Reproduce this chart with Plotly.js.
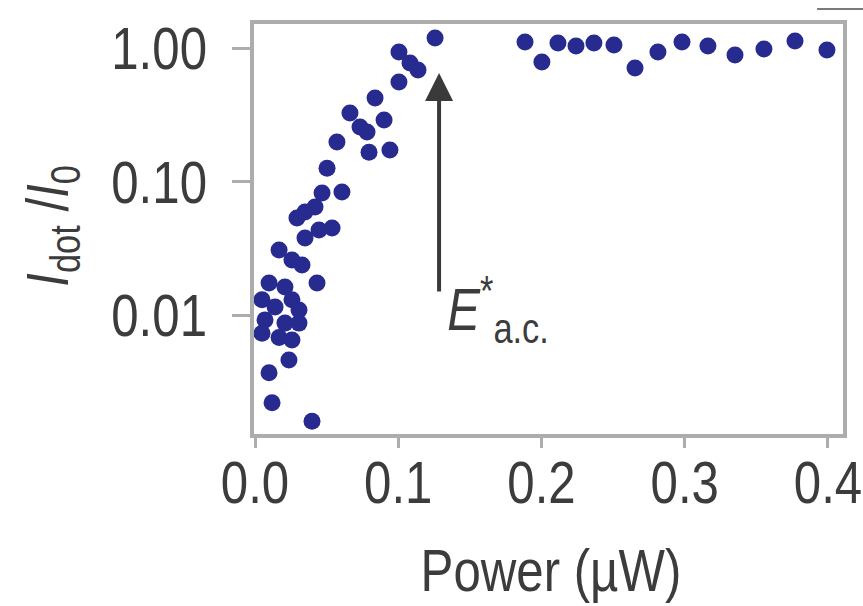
<!DOCTYPE html>
<html>
<head>
<meta charset="utf-8">
<script src="https://cdn.plot.ly/plotly-3.0.1.min.js"></script>
<style>
  html, body { margin: 0; padding: 0; background: #ffffff; }
  #chart { width: 863px; height: 606px; }
</style>
</head>
<body>
<div id="chart"></div>
<script>
// Quantum-dot emission vs. excitation power (µW), normalised to the saturated level I0
const power = [
  0.1257, 0.1005, 0.1082, 0.1138, 0.1005, 0.0838, 0.0663, 0.0733, 0.0782, 0.0901,
  0.0572, 0.0796, 0.0942, 0.0503, 0.0607, 0.0468, 0.0419, 0.0349, 0.0293, 0.0447,
  0.0538, 0.0349, 0.0168, 0.0258, 0.0328, 0.0433, 0.0098, 0.0209, 0.0049, 0.0258,
  0.0140, 0.0307, 0.0070, 0.0209, 0.0307, 0.0049, 0.0168, 0.0258, 0.0237, 0.0098,
  0.0119, 0.0398,
  0.1885, 0.2003, 0.2115, 0.2241, 0.2366, 0.2506, 0.2653, 0.2813, 0.2981, 0.3162,
  0.3351, 0.3553, 0.3770, 0.3993
];
const intensityRatio = [
  1.188, 0.933, 0.772, 0.684, 0.556, 0.422, 0.326, 0.256, 0.235, 0.289,
  0.198, 0.166, 0.172, 0.126, 0.0834, 0.082, 0.0644, 0.0591, 0.0533, 0.0433,
  0.0448, 0.0377, 0.0307, 0.0258, 0.0237, 0.0174, 0.0174, 0.0162, 0.0130, 0.0130,
  0.0115, 0.0109, 0.0092, 0.0087, 0.0087, 0.0073, 0.0068, 0.0065, 0.0046, 0.0037,
  0.0022, 0.0016,
  1.11, 0.785, 1.09, 1.035, 1.09, 1.053, 0.708, 0.933, 1.11, 1.035,
  0.886, 0.983, 1.128, 0.966
];

const xTickVals = [0, 0.1, 0.2, 0.3, 0.4];
const xTickText = ['0.0', '0.1', '0.2', '0.3', '0.4'];
const yTickVals = [0.01, 0.1, 1];
const yTickText = ['0.01', '0.10', '1.00'];

// Threshold field marker E*a.c.: arrow from tail up to tip
const arrowPower = 0.1285;
const arrowTip = 0.65;
const arrowTail = 0.0146;
const labelPower = 0.1249;
const labelTop = 0.0239;

const FONT = '"Liberation Sans", Arial, Helvetica, sans-serif';
const NARROW = 0.82;          // horizontal squeeze for a condensed Helvetica look
const TEXT_COLOR = '#3c3c3c';
const FRAME = '#adadad';

const trace = {
  type: 'scatter',
  mode: 'markers',
  x: power,
  y: intensityRatio,
  marker: { color: '#272a8e', size: 17, line: { width: 0 } },
  hoverinfo: 'x+y'
};

const layout = {
  width: 863,
  height: 606,
  margin: { l: 254, r: 20, t: 24, b: 172, pad: 0 },
  paper_bgcolor: '#ffffff',
  plot_bgcolor: '#ffffff',
  showlegend: false,
  font: { family: FONT, color: TEXT_COLOR },
  xaxis: {
    range: [-0.0007, 0.4105],
    tickvals: xTickVals,
    ticktext: xTickText,
    ticks: 'outside',
    ticklen: 10,
    tickwidth: 3,
    tickcolor: FRAME,
    ticklabelstandoff: -17,
    ticklabeloverflow: 'allow',
    tickfont: { family: FONT, size: 60, color: TEXT_COLOR },
    showline: true,
    linecolor: FRAME,
    linewidth: 4,
    mirror: true,
    showgrid: false,
    zeroline: false
  },
  yaxis: {
    type: 'log',
    range: [-2.891, 0.18],
    tickvals: yTickVals,
    ticktext: yTickText,
    ticks: 'outside',
    ticklen: 18,
    tickwidth: 3,
    tickcolor: FRAME,
    ticklabelstandoff: 13,
    ticklabeloverflow: 'allow',
    tickfont: { family: FONT, size: 60, color: TEXT_COLOR },
    showline: true,
    linecolor: FRAME,
    linewidth: 4,
    mirror: true,
    showgrid: false,
    zeroline: false
  },
  annotations: [
    {
      // arrow pointing at the saturation threshold
      x: arrowPower, y: Math.log10(arrowTip),
      ax: arrowPower, ay: Math.log10(arrowTail),
      xref: 'x', yref: 'y', axref: 'x', ayref: 'y',
      text: '',
      showarrow: true,
      arrowhead: 2,
      arrowsize: 1.4,
      arrowwidth: 4,
      arrowcolor: '#3a3a3a',
      standoff: 0,
      startstandoff: 0
    },
    {
      x: labelPower, y: Math.log10(labelTop),
      xref: 'x', yref: 'y',
      xanchor: 'left', yanchor: 'top',
      showarrow: false,
      text: '<i>E</i><sup>*</sup><sub>a.c.</sub>',
      font: { family: FONT, size: 60, color: TEXT_COLOR }
    },
    {
      // y-axis title
      x: -0.343, y: 0.507,
      xref: 'paper', yref: 'paper',
      xanchor: 'center', yanchor: 'middle',
      textangle: -90,
      showarrow: false,
      text: '<i>I</i><sub>dot</sub> /<i>I</i><sub>0</sub>',
      font: { family: FONT, size: 60, color: TEXT_COLOR }
    },
    {
      // x-axis title
      x: 0.504, y: -0.334,
      xref: 'paper', yref: 'paper',
      xanchor: 'center', yanchor: 'middle',
      showarrow: false,
      text: 'Power (µW)',
      font: { family: FONT, size: 60, color: TEXT_COLOR }
    }
  ],
  shapes: [
    {
      type: 'line', xref: 'paper', yref: 'paper',
      x0: 0.956, x1: 1.034, y0: 1.0366, y1: 1.0366,
      line: { color: '#7a7a7a', width: 2 }
    }
  ]
};

// Squeeze every drawn text horizontally (in its own frame) around its anchor side
function condenseText(gd) {
  gd.querySelectorAll('svg text').forEach(function (t) {
    let bb;
    try { bb = t.getBBox(); } catch (e) { return; }
    if (!bb || !bb.width) return;
    const anchor = t.getAttribute('text-anchor') || t.style.textAnchor || 'start';
    let cx = bb.x + bb.width / 2;
    if (anchor === 'end') cx = bb.x + bb.width;
    else if (anchor === 'start') cx = bb.x;
    const prev = t.getAttribute('transform') || '';
    t.setAttribute('transform',
      prev + ' translate(' + cx + ',0) scale(' + NARROW + ',1) translate(' + (-cx) + ',0)');
  });
}

Plotly.newPlot('chart', [trace], layout, { displayModeBar: false, staticPlot: true })
  .then(function (gd) { condenseText(gd); });
</script>
</body>
</html>
